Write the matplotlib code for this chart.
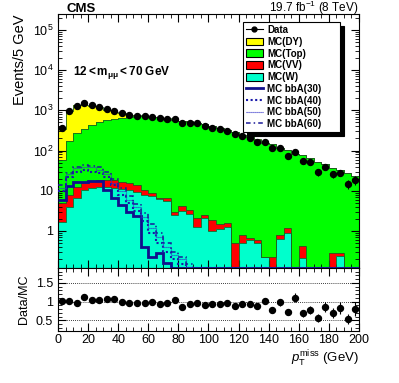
import numpy as np
import matplotlib
matplotlib.use('Agg')
import matplotlib.pyplot as plt
from matplotlib.lines import Line2D
from matplotlib.patches import Patch
from matplotlib.ticker import FixedLocator, MultipleLocator, LogLocator, NullFormatter

plt.rcParams['font.family'] = ['Liberation Sans', 'DejaVu Sans']
plt.rcParams['mathtext.fontset'] = 'custom'
plt.rcParams['mathtext.rm'] = 'Liberation Sans'
plt.rcParams['mathtext.it'] = 'Liberation Sans:italic'
plt.rcParams['mathtext.bf'] = 'Liberation Sans:bold'

# 5 GeV bins, 0-200 GeV
edges = np.arange(0, 205, 5)

data = [359, 966, 1290, 1510, 1360, 1240, 1080, 966, 850, 768,
        724, 724, 700, 632, 611, 611, 477, 494, 477, 410,
        372, 344, 308, 258, 231, 202, 166, 163, 118, 116,
        75, 92, 55, 51, 29, 40, 26, 28, 15, 18.6]

mc_w = [1.7, 3.9, 6.8, 10.5, 12, 12.5, 12.5, 12, 11, 10.5,
        9.5, 8, 7.5, 6.2, 5.6, 2.5, 3.2, 2.65, 1.28, 2.07,
        1.0, 1.1, 1.24, 0, 0.51, 0.6, 0.49, 0.22, 0, 0.62,
        0.91, 0, 0.21, 0, 0, 0, 0, 0.24, 0, 0]

mc_vv = [3.3, 4.1, 5.7, 5.5, 6, 6.5, 6.5, 6.5, 6, 5.5,
         4.5, 2.5, 1.5, 0.5, 0.9, 0.5, 1.1, 0.65, 0.79, 0.43,
         0.88, 0.37, 0.31, 0.49, 0.27, 0.08, 0.12, 0, 0.23, 0.18,
         0.27, 0, 0.21, 0, 0.13, 0, 0.28, 0.05, 0, 0]

mc_top = [53, 162, 257, 334, 427, 486, 546, 601, 643, 664,
          700, 705, 675, 661, 621, 579, 548, 526, 493, 452,
          397, 360, 319, 292, 245, 214, 188, 158, 149, 117,
          103, 83, 78.6, 65, 51, 47, 37, 33, 28, 23]

mc_dy = [291, 786, 1074, 998, 850, 676, 454, 283, 190, 104,
         45, 30, 20, 12, 8, 5, 3, 2, 1.5, 1,
         1, 0.5, 0.5, 0.5, 0.3, 0.3, 0.3, 0.2, 0, 0,
         0, 0, 0, 0, 0, 0, 0, 0, 0, 0]

bba30 = [6, 13, 17, 17, 18, 18, 10.5, 6.5, 4.4, 3.0,
         2.3, 0.41, 0.23, 0.28, 0.16] + [0] * 25
bba40 = [10, 22, 30, 32, 30, 28, 22, 14, 8, 5,
         3.2, 1.8, 0.9, 0.5, 0.3, 0.2, 0.15] + [0] * 23
bba50 = [12, 26, 36, 40, 38, 33, 26, 16, 10, 6,
         4, 2.2, 1.2, 0.7, 0.4, 0.25, 0.2, 0.13] + [0] * 22
bba60 = [14, 28, 40, 45, 42, 38, 30, 20, 12, 7.5,
         4.8, 2.8, 1.5, 0.9, 0.5, 0.3, 0.22, 0.15] + [0] * 22

data = np.array(data)
w = np.array(mc_w)
s1 = w + np.array(mc_vv)
s2 = s1 + np.array(mc_top)
s3 = s2 + np.array(mc_dy)
ratio = data / s3
ratio_err = np.sqrt(data) / s3

fig = plt.figure(figsize=(3.99, 3.83), dpi=100)
ax = fig.add_axes([0.1454, 0.3003, 0.7543, 0.6631])
rax = fig.add_axes([0.1454, 0.1358, 0.7543, 0.1645])

ymin = 0.12
floor = 1e-3
edgec = '#1f5f1f'
for vals, col in [(s3, '#ffff00'), (s2, '#00ff00'), (s1, '#ff0000'), (w, '#00ffcc')]:
    ax.stairs(np.maximum(vals, floor), edges, baseline=floor, fill=True, color=col, zorder=1)
    ax.stairs(np.maximum(vals, floor), edges, baseline=None, color=edgec, lw=0.6, zorder=2)

navy = '#10108c'
sig_styles = [
    (bba30, dict(color=navy, lw=2.0)),
    (bba40, dict(color='#1a1aaa', lw=1.5, ls=(0, (1, 1.2)))),
    (bba50, dict(color='#3030c8', lw=0.8, ls=(0, (1, 0.8)))),
    (bba60, dict(color='#1a1a99', lw=1.1, ls=(0, (3, 2, 1, 2)))),
]
for vals, st in sig_styles:
    ax.stairs(np.maximum(vals, ymin * 1.01), edges, baseline=None, zorder=3, **st)

centers = 0.5 * (edges[:-1] + edges[1:])
ax.errorbar(centers, data, yerr=np.sqrt(data), fmt='o', color='k', ms=4.3,
            elinewidth=0.8, capsize=0, zorder=5)

ax.set_yscale('log')
ax.set_xlim(0, 200)
ax.set_ylim(ymin, 2.5e5)
ax.yaxis.set_major_locator(FixedLocator([1, 10, 100, 1e3, 1e4, 1e5]))
ax.set_yticklabels(['1', '10', r'$10^{2}$', r'$10^{3}$', r'$10^{4}$', r'$10^{5}$'])
ax.yaxis.set_minor_locator(LogLocator(base=10, subs=np.arange(2, 10), numticks=20))
ax.yaxis.set_minor_formatter(NullFormatter())
ax.xaxis.set_major_locator(MultipleLocator(20))
ax.xaxis.set_minor_locator(MultipleLocator(5))
ax.tick_params(axis='both', which='both', direction='in', top=True, right=True, labelsize=9)
ax.tick_params(which='major', length=6)
ax.tick_params(which='minor', length=3)
ax.tick_params(axis='x', labelbottom=False)
ax.set_ylabel('Events/5 GeV', fontsize=10.5, loc='top')

fig.text(0.167, 1 - 12 / 383, 'CMS', fontsize=9.5, fontweight='bold', va='baseline')
fig.text(0.8997, 1 - 12 / 383, r'19.7 fb$^{-1}$ (8 TeV)', fontsize=8.5, ha='right', va='baseline')
ax.text(0.05, 0.77, r'$\mathbf{12{<}m_{\mu\mu}{<}70\ GeV}$', transform=ax.transAxes,
        fontsize=8.5, fontweight='bold', va='center')

handles = [Line2D([], [], color='k', marker='o', ms=3.5, lw=0.8)]
for col in ['#ffff00', '#00ff00', '#ff0000', '#00ffcc']:
    handles.append(Patch(facecolor=col, edgecolor='k', lw=0.8))
for vals, st in sig_styles:
    handles.append(Line2D([], [], **st))
labels = ['Data', 'MC(DY)', 'MC(Top)', 'MC(VV)', 'MC(W)',
          'MC bbA(30)', 'MC bbA(40)', 'MC bbA(50)', 'MC bbA(60)']
leg = ax.legend(handles, labels, loc='upper left', bbox_to_anchor=(0.615, 0.55, 0.322, 0.418),
                mode='expand', prop={'size': 7, 'weight': 'bold'}, frameon=True, fancybox=False,
                edgecolor='k', framealpha=1, shadow={'color': 'k', 'alpha': 1, 'ox': 3, 'oy': -3},
                handlelength=1.7, handleheight=0.85, labelspacing=0.18, borderpad=0.3,
                handletextpad=0.45, borderaxespad=0)
leg.get_frame().set_linewidth(0.8)

# ratio panel
rax.errorbar(centers, ratio, yerr=ratio_err, fmt='o', color='k', ms=4.3,
             elinewidth=0.8, capsize=0, zorder=5)
for yv in [0.5, 1.0, 1.5]:
    rax.axhline(yv, color='k', ls=(0, (1, 1.5)), lw=0.6, zorder=1)
rax.set_xlim(0, 200)
rax.set_ylim(0.22, 1.9)
rax.set_yticks([0.5, 1, 1.5])
rax.set_yticklabels(['0.5', '1', '1.5'])
rax.yaxis.set_minor_locator(MultipleLocator(0.1))
rax.xaxis.set_major_locator(MultipleLocator(20))
rax.xaxis.set_minor_locator(MultipleLocator(5))
rax.tick_params(axis='both', which='both', direction='in', top=True, right=True, labelsize=9)
rax.tick_params(axis='x', pad=2)
rax.tick_params(which='major', length=6)
rax.tick_params(which='minor', length=3)
rax.set_ylabel('Data/MC', fontsize=9)
rax.set_xlabel(r'$p_{\mathrm{T}}^{\mathrm{miss}}$ (GeV)', fontsize=9.5, loc='right', labelpad=2)

fig.align_ylabels([ax, rax])
fig.savefig('out.png', dpi=100)
